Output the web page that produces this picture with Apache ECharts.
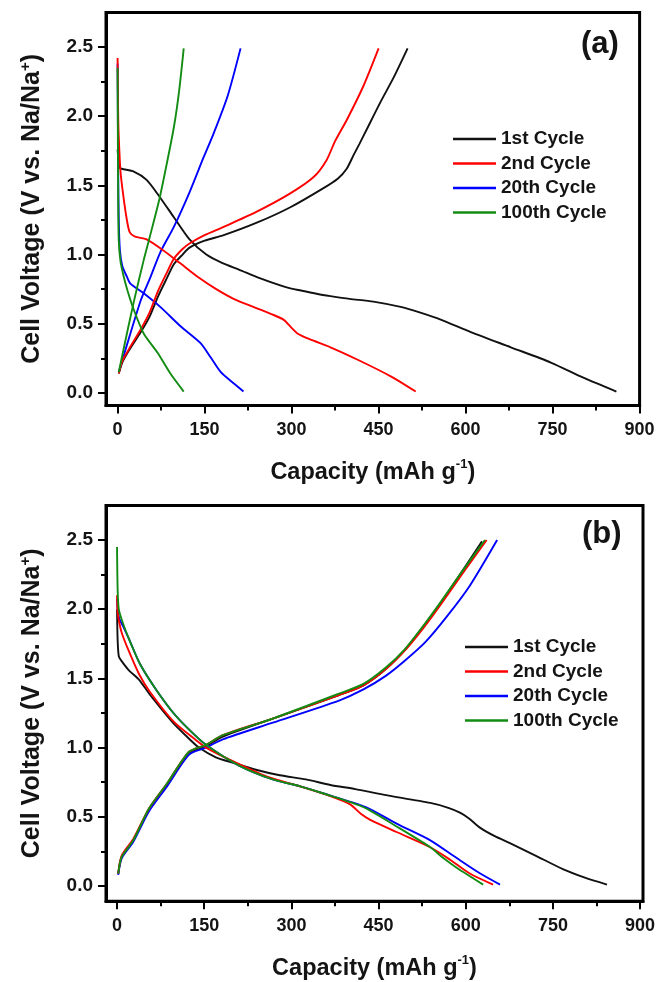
<!DOCTYPE html>
<html>
<head>
<meta charset="utf-8">
<script src="https://cdn.jsdelivr.net/npm/echarts@6/dist/echarts.min.js"></script>
<style>
html,body{margin:0;padding:0;background:#fff;}
#chart{width:660px;height:982px;}
</style>
</head>
<body>
<div id="chart"></div>
<script>
// ---------- data ----------
var cycleNames = ['1st Cycle', '2nd Cycle', '20th Cycle', '100th Cycle'];
var cycleColors = ['#111111', '#ff0000', '#0000ff', '#138c13'];

var xTicks = [0, 150, 300, 450, 600, 750, 900];
var xMinorTicks = [75, 225, 375, 525, 675, 825];
var yTicks = [0, 0.5, 1.0, 1.5, 2.0, 2.5];
var yMinorTicks = [0.25, 0.75, 1.25, 1.75, 2.25];

// panel (a): [capacity mAh/g, voltage V]
var aDis1 = [[0,1.76],[3,1.63],[7,1.62],[28,1.60],[50,1.54],[72,1.42],[97,1.27],[124,1.11],[153,1.00],[180,0.94],[210,0.89],[245,0.83],[290,0.765],[316,0.74],[345,0.715],[367,0.70],[400,0.68],[441,0.66],[490,0.62],[522,0.58],[557,0.53],[609,0.44],[678,0.33],[747,0.22],[803,0.11],[860,0.01]];
var aChg1 = [[2,0.14],[8,0.22],[20,0.31],[40,0.44],[55,0.55],[70,0.70],[85,0.83],[97,0.93],[112,1.00],[124,1.05],[150,1.10],[183,1.14],[240,1.23],[297,1.34],[355,1.48],[380,1.55],[395,1.62],[407,1.72],[417,1.80],[429,1.90],[453,2.10],[476,2.28],[500,2.49]];
var aDis2 = [[0,2.42],[1,2.00],[2,1.85],[5,1.60],[10,1.42],[16,1.25],[21,1.16],[30,1.13],[50,1.11],[79,1.03],[107,0.94],[141,0.83],[170,0.75],[200,0.68],[235,0.62],[265,0.57],[286,0.53],[300,0.47],[310,0.43],[330,0.39],[367,0.33],[414,0.24],[471,0.12],[514,0.01]];
var aChg2 = [[2,0.14],[8,0.23],[20,0.32],[40,0.46],[55,0.58],[70,0.74],[85,0.87],[97,0.97],[112,1.04],[124,1.08],[150,1.14],[183,1.20],[240,1.31],[297,1.44],[338,1.56],[360,1.68],[375,1.82],[396,1.98],[424,2.22],[450,2.49]];
var aDis3 = [[0,2.38],[1,1.60],[2,1.25],[4,1.03],[8,0.92],[16,0.84],[22,0.79],[45,0.72],[74,0.62],[109,0.48],[143,0.36],[160,0.26],[178,0.15],[200,0.07],[217,0.01]];
var aChg3 = [[2,0.15],[17,0.36],[40,0.67],[55,0.82],[74,1.02],[97,1.20],[124,1.45],[148,1.70],[166,1.88],[190,2.15],[212,2.49]];
var aDis4 = [[0,2.35],[1,1.40],[2,1.10],[5,0.95],[10,0.85],[17,0.74],[28,0.60],[45,0.43],[69,0.29],[91,0.14],[114,0.01]];
var aChg4 = [[2,0.15],[10,0.31],[28,0.66],[45,0.96],[55,1.12],[72,1.40],[84,1.64],[97,1.92],[106,2.18],[114,2.49]];

// panel (b)
var bDis1 = [[0,2.00],[1,1.78],[3,1.66],[7,1.63],[20,1.56],[38,1.49],[57,1.38],[96,1.18],[120,1.08],[141,1.00],[170,0.93],[200,0.89],[239,0.84],[280,0.80],[325,0.77],[367,0.73],[410,0.70],[458,0.66],[539,0.60],[570,0.565],[590,0.53],[605,0.49],[625,0.42],[650,0.36],[676,0.31],[720,0.22],[768,0.12],[805,0.06],[843,0.01]];
var bChg1 = [[2,0.09],[8,0.21],[28,0.33],[55,0.55],[86,0.73],[124,0.96],[153,1.01],[182,1.08],[268,1.21],[382,1.38],[424,1.45],[463,1.57],[496,1.71],[528,1.88],[556,2.04],[590,2.25],[628,2.49]];
var bDis2 = [[0,2.10],[1,1.98],[4,1.90],[8,1.83],[20,1.70],[38,1.53],[57,1.40],[97,1.19],[137,1.05],[153,1.00],[200,0.90],[258,0.79],[315,0.72],[367,0.65],[401,0.59],[420,0.52],[435,0.48],[481,0.39],[539,0.28],[573,0.19],[607,0.09],[647,0.01]];
var bChg2 = [[2,0.09],[8,0.22],[28,0.34],[55,0.56],[86,0.74],[124,0.97],[153,1.02],[182,1.09],[268,1.21],[382,1.38],[424,1.45],[463,1.57],[497,1.71],[530,1.88],[558,2.04],[593,2.25],[636,2.50]];
var bDis3 = [[0,2.08],[1,2.00],[4,1.93],[10,1.88],[21,1.78],[40,1.60],[67,1.42],[97,1.25],[124,1.13],[153,1.02],[210,0.87],[268,0.77],[315,0.72],[354,0.67],[428,0.57],[481,0.45],[539,0.33],[585,0.20],[625,0.09],[659,0.01]];
var bChg3 = [[2,0.08],[8,0.20],[28,0.32],[55,0.54],[86,0.72],[124,0.95],[153,1.00],[182,1.06],[268,1.18],[382,1.34],[424,1.42],[463,1.52],[493,1.62],[530,1.76],[568,1.95],[607,2.17],[654,2.50]];
var bDis4 = [[0,2.45],[1,2.15],[3,2.00],[10,1.90],[21,1.78],[40,1.60],[67,1.42],[97,1.25],[124,1.13],[153,1.02],[210,0.87],[268,0.77],[315,0.72],[354,0.67],[424,0.57],[481,0.43],[539,0.28],[562,0.20],[585,0.13],[630,0.01]];
var bChg4 = [[2,0.09],[8,0.21],[28,0.33],[55,0.56],[86,0.74],[124,0.97],[153,1.02],[182,1.09],[268,1.21],[382,1.39],[424,1.46],[463,1.58],[495,1.71],[527,1.88],[555,2.04],[590,2.25],[633,2.50]];

var panelA = [[aDis1, aChg1], [aDis2, aChg2], [aDis3, aChg3], [aDis4, aChg4]];
var panelB = [[bDis1, bChg1], [bDis2, bChg2], [bDis3, bChg3], [bDis4, bChg4]];

// ---------- chart ----------
var FONT = '"Liberation Sans", Arial, Helvetica, sans-serif';
var TXT = '#141414';
var chart = echarts.init(document.getElementById('chart'), null, {renderer: 'canvas'});

var grids = [
  {left: 106, top: 12.4, width: 533.6, height: 393, show: true, borderColor: '#000', borderWidth: 3, backgroundColor: 'transparent'},
  {left: 106, top: 505.4, width: 537, height: 395.8, show: true, borderColor: '#000', borderWidth: 3, backgroundColor: 'transparent'}
];
var ranges = [
  {xmin: -20, xmax: 900, ymin: -0.09, ymax: 2.75},
  {xmin: -19, xmax: 905, ymin: -0.11, ymax: 2.75}
];

var xAxes = [], yAxes = [];
ranges.forEach(function (r, g) {
  xAxes.push({
    type: 'value', gridIndex: g, position: 'bottom', min: r.xmin, max: r.xmax,
    splitLine: {show: false},
    axisLine: {show: true, onZero: false, lineStyle: {color: '#000', width: 3}},
    axisTick: {show: true, inside: false, length: 8, customValues: xTicks, lineStyle: {color: '#000', width: 2}},
    axisLabel: {show: true, customValues: xTicks, margin: 16, color: TXT, fontFamily: FONT, fontWeight: 'bold', fontSize: 18},
    name: '{t|Capacity (mAh g}{s|-1}{t|)}',
    nameLocation: 'middle', nameGap: 53,
    nameTextStyle: {
      rich: {
        t: {fontFamily: FONT, fontWeight: 'bold', fontSize: 23.5, color: TXT, lineHeight: 28},
        s: {fontFamily: FONT, fontWeight: 'bold', fontSize: 13, color: TXT, verticalAlign: 'top', lineHeight: 13}
      }
    }
  });
  xAxes.push({
    type: 'value', gridIndex: g, position: 'bottom', min: r.xmin, max: r.xmax,
    splitLine: {show: false}, axisLine: {show: false, onZero: false},
    axisTick: {show: true, inside: false, length: 5, customValues: xMinorTicks, lineStyle: {color: '#000', width: 2}},
    axisLabel: {show: false}
  });
  yAxes.push({
    type: 'value', gridIndex: g, position: 'left', min: r.ymin, max: r.ymax,
    splitLine: {show: false},
    axisLine: {show: true, onZero: false, lineStyle: {color: '#000', width: 3}},
    axisTick: {show: true, inside: false, length: 8, customValues: yTicks, lineStyle: {color: '#000', width: 2}},
    axisLabel: {show: true, customValues: yTicks, margin: 13, color: TXT, fontFamily: FONT, fontWeight: 'bold', fontSize: 19,
      formatter: function (v) { return v.toFixed(1); }},
    name: '{t|Cell Voltage (V vs. Na/Na}{s|+}{t|)}',
    nameLocation: 'middle', nameGap: 60, nameRotate: 90,
    nameTextStyle: {
      rich: {
        t: {fontFamily: FONT, fontWeight: 'bold', fontSize: 25, color: TXT, lineHeight: 28},
        s: {fontFamily: FONT, fontWeight: 'bold', fontSize: 15, color: TXT, verticalAlign: 'top', lineHeight: 13}
      }
    }
  });
  yAxes.push({
    type: 'value', gridIndex: g, position: 'left', min: r.ymin, max: r.ymax,
    splitLine: {show: false}, axisLine: {show: false, onZero: false},
    axisTick: {show: true, inside: false, length: 5, customValues: yMinorTicks, lineStyle: {color: '#000', width: 2}},
    axisLabel: {show: false}
  });
});

var series = [];
[panelA, panelB].forEach(function (panel, g) {
  var order = [0, 2, 1, 3];
  order.forEach(function (i) {
    panel[i].forEach(function (curve) {
      series.push({
        type: 'line', name: cycleNames[i], xAxisIndex: g * 2, yAxisIndex: g * 2,
        data: curve, showSymbol: false, symbol: 'none', smooth: 0.25,
        lineStyle: {color: cycleColors[i], width: 1.9}, itemStyle: {color: cycleColors[i]},
        animation: false, z: 3
      });
    });
  });
});

function legendFor(left, top) {
  return {
    orient: 'vertical', left: left, top: top, padding: 0, data: cycleNames,
    icon: 'rect', itemWidth: 43, itemHeight: 2.5, itemGap: 2.5,
    selectedMode: false,
    textStyle: {fontFamily: FONT, fontWeight: 'bold', fontSize: 19, color: TXT, lineHeight: 22}
  };
}

chart.setOption({
  animation: false,
  backgroundColor: '#fff',
  grid: grids,
  xAxis: xAxes,
  yAxis: yAxes,
  legend: [legendFor(453, 128), legendFor(465, 636)],
  graphic: [
    {type: 'text', left: 581, top: 29, style: {text: '(a)', font: 'bold 31px ' + FONT, fill: TXT}},
    {type: 'text', left: 582, top: 519, style: {text: '(b)', font: 'bold 31px ' + FONT, fill: TXT}}
  ],
  series: series
});
</script>
</body>
</html>
